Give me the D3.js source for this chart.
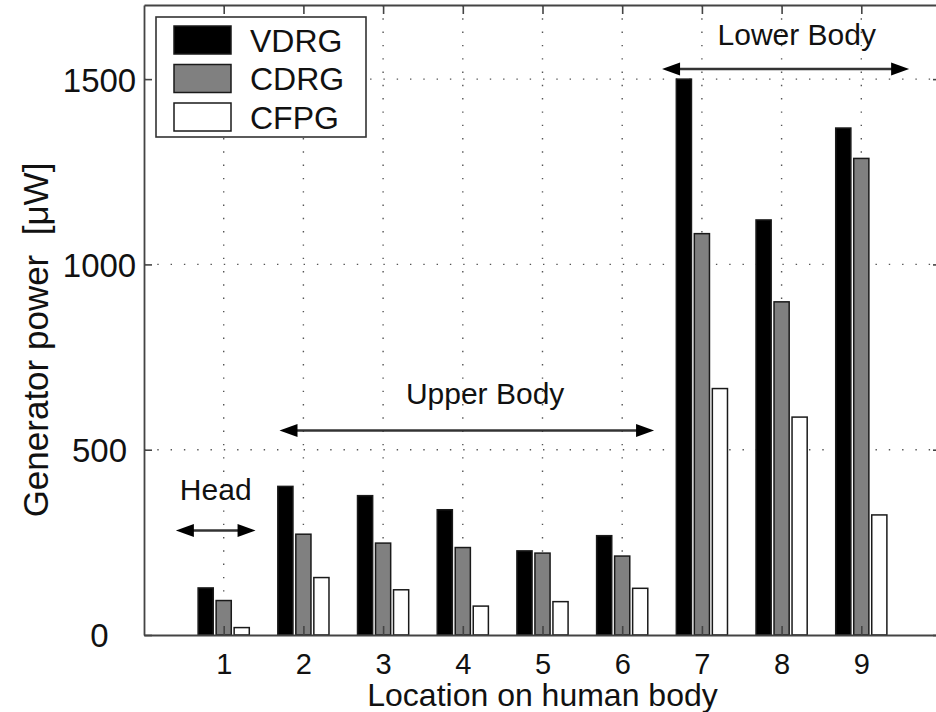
<!DOCTYPE html>
<html><head><meta charset="utf-8">
<script src="https://cdn.jsdelivr.net/npm/d3@7"></script>
<style>body{margin:0;background:#fff}svg{display:block;font-family:"Liberation Sans",Arial,Helvetica,sans-serif}</style>
</head><body><svg id="c" width="936" height="712"></svg>
<script>
// ---- data ----
const locations = [1, 2, 3, 4, 5, 6, 7, 8, 9];
const seriesNames = ["VDRG", "CDRG", "CFPG"];
const vdrg = [127, 401, 376, 338, 227, 268, 1500, 1120, 1368];
const cdrg = [93, 272, 248, 236, 221, 213, 1083, 899, 1286];
const cfpg = [20, 155, 122, 78, 90, 126, 665, 588, 324];
const yTicks = [0, 500, 1000, 1500];
const xTicks = [1, 2, 3, 4, 5, 6, 7, 8, 9];
const regionLabels = ["Head", "Upper Body", "Lower Body"];
const regionFrom = [0.4, 1.7, 6.5];
const regionTo = [1.4, 6.4, 9.6];
const regionLevel = [282, 552, 1527];
const regionTextX = [0.9, 4.28, 8.19];
const regionTextLevel = [363, 622, 1592];
const xLabel = "Location on human body";
const yLabel = "Generator power  [\u03bcW]";

(function () {
// ---- layout ----
const svg = d3.select("#c");
const X0 = 144, X1 = 941, Y0 = 635, Y1 = 5;
const x = d3.scaleLinear().domain([0, 10]).range([X0, X1]);
const y = d3.scaleLinear().domain([0, 1700]).range([Y0, Y1]);
const fills = ["#000000", "#808080", "#ffffff"];
const series = [vdrg, cdrg, cfpg];
const pitch = 0.226, bw = 0.19;

// grid
const grid = svg.append("g").attr("stroke", "#555").attr("stroke-width", 1.4).attr("stroke-dasharray", "1.4,11.9");
grid.selectAll("line.gx").data(xTicks).join("line").attr("class", "gx")
  .attr("x1", d => x(d)).attr("x2", d => x(d)).attr("y1", Y1).attr("y2", Y0);
grid.selectAll("line.gy").data(yTicks.filter(d => d > 0)).join("line").attr("class", "gy")
  .attr("x1", X0).attr("x2", X1).attr("y1", d => y(d)).attr("y2", d => y(d));

// bars
series.forEach((vals, k) => {
  svg.append("g").selectAll("rect").data(vals).join("rect")
    .attr("x", (d, i) => x(locations[i] + (k - 1) * pitch - bw / 2))
    .attr("width", x(bw) - x(0))
    .attr("y", d => y(d))
    .attr("height", d => y(0) - y(d))
    .attr("fill", fills[k])
    .attr("stroke", "#1a1a1a").attr("stroke-width", 1.5);
});

// axes (MATLAB style: inward ticks on all sides)
const gBottom = svg.append("g").attr("transform", `translate(0,${Y0})`)
  .call(d3.axisBottom(x).tickValues(xTicks).tickSizeInner(-9).tickSizeOuter(0).tickPadding(18));
const gTop = svg.append("g").attr("transform", `translate(0,${Y1})`)
  .call(d3.axisTop(x).tickValues(xTicks).tickSizeInner(-9).tickSizeOuter(0).tickFormat(""));
const gLeft = svg.append("g").attr("transform", `translate(${X0},0)`)
  .call(d3.axisLeft(y).tickValues(yTicks).tickSizeInner(-8).tickSizeOuter(0).tickFormat(d3.format("d")));
const gRight = svg.append("g").attr("transform", `translate(${X1},0)`)
  .call(d3.axisRight(y).tickValues(yTicks).tickSizeInner(-8).tickSizeOuter(0).tickFormat(""));
[gBottom, gTop, gLeft, gRight].forEach(g => {
  g.attr("font-family", null);
  g.selectAll(".domain").attr("stroke", "#444").attr("stroke-width", 1.8);
  g.selectAll(".tick line").attr("stroke", "#444").attr("stroke-width", 1.6);
});
gBottom.selectAll(".tick text").attr("font-size", 29).attr("fill", "#111");
gLeft.selectAll(".tick text").attr("font-size", 33).attr("fill", "#111")
  .attr("text-anchor", "middle").attr("x", 99.5 - X0).attr("dy", "0.36em");

// axis labels
svg.append("text").attr("x", (X0 + X1) / 2).attr("y", 706).attr("text-anchor", "middle")
  .attr("font-size", 32).attr("fill", "#111").text(xLabel);
svg.append("text").attr("transform", `translate(48,340) rotate(-90)`).attr("text-anchor", "middle")
  .attr("font-size", 35).attr("fill", "#111").style("white-space", "pre").text(yLabel);

// region arrows
const headLen = 18, headW = 6.5;
regionLabels.forEach((lab, i) => {
  const xa = x(regionFrom[i]), xb = x(regionTo[i]), yy = y(regionLevel[i]);
  const g = svg.append("g");
  g.append("line").attr("x1", xa + headLen - 2).attr("x2", xb - headLen + 2).attr("y1", yy).attr("y2", yy)
    .attr("stroke", "#333").attr("stroke-width", 2.5);
  g.append("path").attr("d", `M${xa},${yy}L${xa + headLen},${yy - headW}L${xa + headLen},${yy + headW}Z`).attr("fill", "#000");
  g.append("path").attr("d", `M${xb},${yy}L${xb - headLen},${yy - headW}L${xb - headLen},${yy + headW}Z`).attr("fill", "#000");
  svg.append("text").attr("x", x(regionTextX[i])).attr("y", y(regionTextLevel[i])).attr("text-anchor", "middle")
    .attr("font-size", 30).attr("fill", "#111").text(lab);
});

// legend
const lg = svg.append("g");
lg.append("rect").attr("x", 156).attr("y", 17).attr("width", 210).attr("height", 120)
  .attr("fill", "#fff").attr("stroke", "#333").attr("stroke-width", 1.6);
seriesNames.forEach((name, k) => {
  const cy = 40 + k * 38.5;
  lg.append("rect").attr("x", 174).attr("y", cy - 14).attr("width", 57).attr("height", 28)
    .attr("fill", fills[k]).attr("stroke", "#1a1a1a").attr("stroke-width", 1.5);
  lg.append("text").attr("x", 250).attr("y", cy).attr("dy", "0.36em").attr("font-size", 32)
    .attr("fill", "#111").text(name);
});
})();
</script></body></html>
